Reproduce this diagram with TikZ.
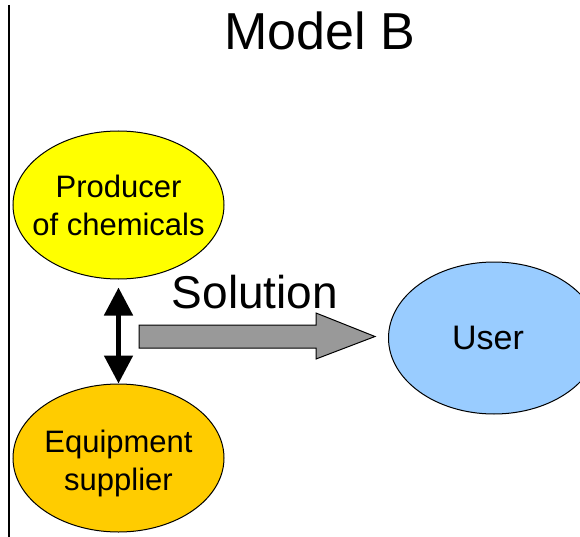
\documentclass[tikz,border=0pt]{standalone}
\usepackage{fontspec}
\setmainfont{Liberation Sans}
\usetikzlibrary{shapes.geometric,arrows.meta}
\definecolor{prodyellow}{HTML}{FFFF00}
\definecolor{equiporange}{HTML}{FFCC00}
\definecolor{userblue}{HTML}{99CCFF}
\definecolor{flowgray}{HTML}{999999}
\tikzset{
  party/.style={ellipse, draw=black, line width=1pt, inner sep=0pt,
    minimum width=211pt, minimum height=148pt},
  partytext/.style={align=center, font=\fontsize{31}{38}\selectfont},
  link/.style={line width=5pt, {Triangle[width=28pt,length=28pt]}-{Triangle[width=28pt,length=28pt]}},
}
\begin{document}
\begin{tikzpicture}[x=1pt,y=-1pt]
\useasboundingbox (0,0) rectangle (580,537);
\clip (0,0) rectangle (580,537);
% divider on the left
\draw[line width=1.5pt] (9,5) -- (9,537);
% title
\node[font=\fontsize{52}{60}\selectfont, anchor=base] (title) at (320,50) {Model B};
% parties: the ellipse sizes are fixed, the text sits on top of them
\node[party, fill=prodyellow] (prod) at (118.5,205) {};
\node[partytext] (prodtext) at (prod.center) {Producer\\of chemicals};
\node[party, fill=equiporange] (equip) at (118.5,458) {};
\node[partytext] (equiptext) at ([yshift=-5pt]equip.center) {Equipment\\supplier};
\node[party, fill=userblue, minimum height=152pt] (user) at (494,338) {};
\node[font=\fontsize{34}{40}\selectfont] (usertext) at ([xshift=-6pt]user.center) {User};
% cooperation between producer and supplier
\draw[link, shorten <=8pt, shorten >=0pt] (prod.south) -- (equip.north);
% solution flow towards the user
\coordinate (flowstart) at (139,336.5);
\coordinate (flowtip) at (375,336.5);
\filldraw[fill=flowgray, draw=black, line width=1pt]
  (flowstart) ++(0,-11.5) -- (316,325) -- (316,313) -- (flowtip)
  -- (316,359) -- (316,348) -- (139,348) -- cycle;
\node[font=\fontsize{46}{52}\selectfont, anchor=base] (sol) at (255,308) {Solution};
\end{tikzpicture}
\end{document}
